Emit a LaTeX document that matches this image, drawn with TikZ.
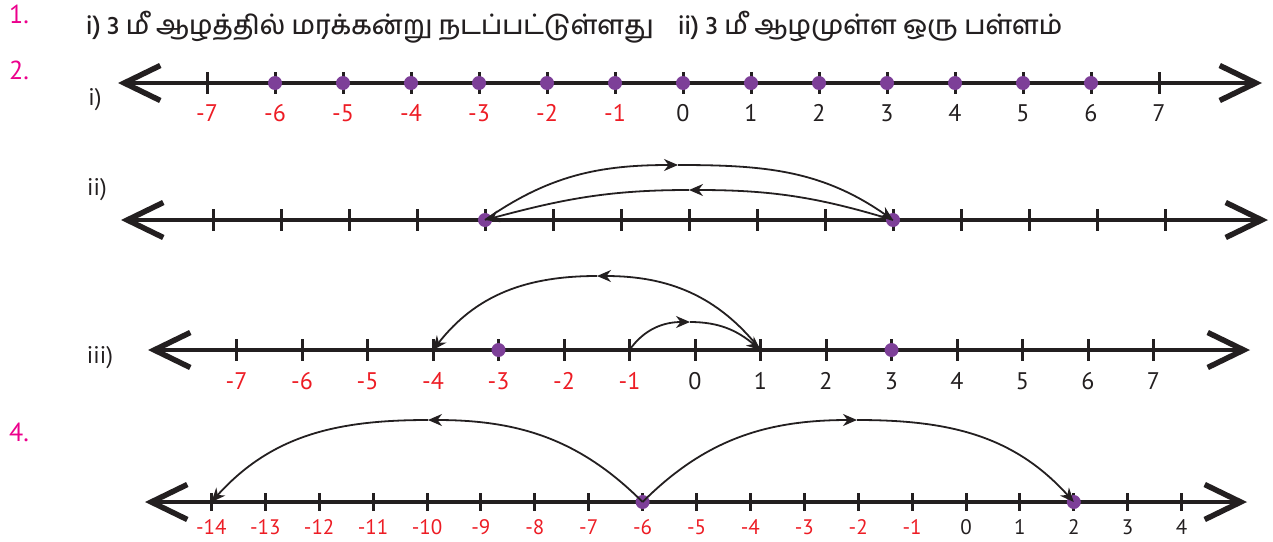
\documentclass[tikz,border=0pt]{standalone}
\usepackage{fontspec}
\setmainfont{PT Sans}
\newfontfamily\tamilfont[Script=Tamil]{Hind Madurai Medium}
\usetikzlibrary{arrows.meta, positioning, calc}
\definecolor{inkgray}{HTML}{231F20}
\definecolor{numred}{HTML}{ED1C24}
\definecolor{dotpurple}{HTML}{7D3F98}
\definecolor{qmagenta}{HTML}{EC008C}

\begin{document}
\begin{tikzpicture}[
	x=1pt, y=-1pt,
	numline/.style={inkgray, line width=4.5pt, {Straight Barb[length=36pt, width=35pt, line width=5.5pt]}-{Straight Barb[length=36pt, width=35pt, line width=5.5pt]}},
	tickmark/.style={inkgray, line width=3pt},
	pdot/.style={circle, fill=dotpurple, inner sep=0pt, minimum size=14pt},
	neglabel/.style={numred, inner sep=0pt, font=\fontsize{24}{24}\selectfont},
	poslabel/.style={inkgray, inner sep=0pt, font=\fontsize{24}{24}\selectfont},
	jumparc/.style={inkgray, line width=1.8pt, -{Stealth[length=14pt, width=12pt]}},
	qnum/.style={qmagenta, anchor=west, inner sep=0pt, font=\fontsize{26}{26}\selectfont},
	rowlabel/.style={inkgray, inner sep=0pt, font=\fontsize{24}{24}\selectfont},
	titletext/.style={inkgray, anchor=base west, inner sep=0pt, font=\tamilfont\fontsize{26}{26}\selectfont}
	]
	\useasboundingbox (0,0) rectangle (1273,541);

	% question numbers and the answer to 1
	\node[qnum] (q1) at (9,14) {1.};
	\node[qnum] (q2) at (9,70) {2.};
	\node[qnum] (q4) at (9,432) {4.};
	\node[titletext] (title-i) at (86,34) {i) 3 மீ ஆழத்தில் மரக்கன்று நடப்பட்டுள்ளது};
	\node[titletext] (title-ii) at (678,34) {ii) 3 மீ ஆழமுள்ள ஒரு பள்ளம்};

	% number line i)
	\node[rowlabel] (lbl-i) at (95,100) {i)};
	\coordinate (i-l) at (118,83);
	\coordinate (i-r) at (1262,83);
	\draw[numline] (i-l) -- (i-r);
	\foreach \n in {-7,...,7} {
		\coordinate (i\n) at (683+68*\n,83);
		\draw[tickmark] ([yshift=11pt]i\n) -- ([yshift=-11pt]i\n);
		\ifnum\n<0 \node[neglabel] (i\n-num) at (683+68*\n,113) {\n};
		\else \node[poslabel] (i\n-num) at (683+68*\n,113) {\n}; \fi
	}
	\foreach \n in {-6,...,6}
		\node[pdot] (i\n-dot) at (i\n) {};

	% number line ii)
	\node[rowlabel] (lbl-ii) at (97,190) {ii)};
	\coordinate (ii-l) at (121,220);
	\coordinate (ii-r) at (1268,220);
	\draw[numline] (ii-l) -- (ii-r);
	\foreach \n in {-7,...,7} {
		\coordinate (ii\n) at (689+68*\n,220);
		\draw[tickmark] ([yshift=11pt]ii\n) -- ([yshift=-11pt]ii\n);
	}
	\node[pdot] (ii-3-dot) at (ii-3) {};
	\node[pdot] (ii3-dot) at (ii3) {};
	\coordinate (ii-top1) at (678,165);
	\coordinate (ii-top2) at (689,190);
	\draw[jumparc] (ii-3) to[out=35, in=180] (ii-top1);
	\draw[jumparc] (ii-top1) to[out=0, in=145] (ii3);
	\draw[jumparc] (ii3) to[out=163, in=0] (ii-top2);
	\draw[jumparc] (ii-top2) to[out=180, in=15] (ii-3);

	% number line iii)
	\node[rowlabel] (lbl-iii) at (100,358) {iii)};
	\coordinate (iii-l) at (148,350);
	\coordinate (iii-r) at (1250,350);
	\draw[numline] (iii-l) -- (iii-r);
	\foreach \n in {-7,...,7} {
		\coordinate (iii\n) at (695+65.5*\n,350);
		\draw[tickmark] ([yshift=11pt]iii\n) -- ([yshift=-11pt]iii\n);
		\ifnum\n<0 \node[neglabel] (iii\n-num) at (695+65.5*\n,381) {\n};
		\else \node[poslabel] (iii\n-num) at (695+65.5*\n,381) {\n}; \fi
	}
	\node[pdot] (iii-3-dot) at (iii-3) {};
	\node[pdot] (iii3-dot) at (iii3) {};
	\coordinate (iii-top1) at (597,276);
	\coordinate (iii-top2) at (690,322);
	\draw[jumparc] (iii1) to[out=128, in=0] (iii-top1);
	\draw[jumparc] (iii-top1) to[out=180, in=52] (iii-4);
	\draw[jumparc] (iii-1) to[out=55, in=180] (iii-top2);
	\draw[jumparc] (iii-top2) to[out=0, in=140] (iii1);

	% number line for 4
	\coordinate (iv-l) at (145,502);
	\coordinate (iv-r) at (1247,502);
	\draw[numline, line width=4pt] (iv-l) -- (iv-r);
	\foreach \n in {-14,...,4} {
		\coordinate (iv\n) at (966+53.9*\n,502);
		\draw[tickmark] ([yshift=9pt]iv\n) -- ([yshift=-9pt]iv\n);
		\ifnum\n<0 \node[neglabel, font=\fontsize{21}{21}\selectfont] (iv\n-num) at (966+53.9*\n,527) {\n};
		\else \node[poslabel, font=\fontsize{21}{21}\selectfont] (iv\n-num) at (966+53.9*\n,527) {\n}; \fi
	}
	\node[pdot] (iv-6-dot) at (iv-6) {};
	\node[pdot] (iv2-dot) at (iv2) {};
	\coordinate (iv-top1) at (428,420);
	\coordinate (iv-top2) at (857,420);
	\draw[jumparc] (iv-6) to[out=135, in=0] (iv-top1);
	\draw[jumparc] (iv-top1) to[out=180, in=48] (iv-14);
	\draw[jumparc] (iv-6) to[out=45, in=180] (iv-top2);
	\draw[jumparc] (iv-top2) to[out=0, in=132] (iv2);
\end{tikzpicture}
\end{document}
